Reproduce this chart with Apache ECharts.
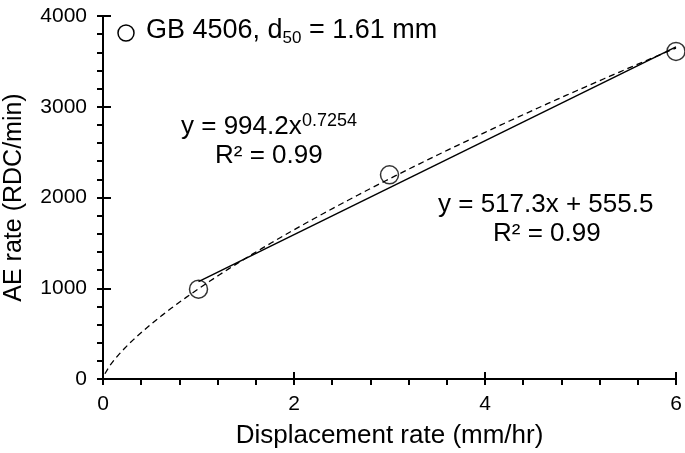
<!DOCTYPE html>
<html><head><meta charset="utf-8">
<script src="https://cdn.jsdelivr.net/npm/echarts@6/dist/echarts.min.js"></script>
<style>html,body{margin:0;padding:0;background:#fff}#c{width:685px;height:453px}</style>
</head><body><div id="c"></div>
<script>
// Data
const dispRate = [1, 3, 6];
const aeRate = [990, 2250, 3610];
const linFit = [517.3, 555.5];      // slope, intercept
const powFit = [994.2, 0.7254];     // coef, exponent
const xTicks = [0, 2, 4, 6];
const yTicks = [0, 1000, 2000, 3000, 4000];

const pts = dispRate.map((x, i) => [x, aeRate[i]]);
const linLine = [dispRate[0], dispRate[dispRate.length - 1]].map(x => [x, linFit[0] * x + linFit[1]]);
const powLine = [];
for (let i = 0; i <= 120; i++) {
  const x = 0.02 + (6 - 0.02) * i / 120;
  powLine.push([x, powFit[0] * Math.pow(x, powFit[1])]);
}

const F = 'Liberation Sans, Arial, sans-serif';
const chart = echarts.init(document.getElementById('c'));
const axisCommon = {
  axisLine: { show: true, lineStyle: { color: '#000', width: 2 } },
  splitLine: { show: false }
};
function txt(x, y, s, size) {
  return { type: 'text', x: x, y: y, style: { text: s, font: size + 'px ' + F, fill: '#000', verticalAlign: 'middle', align: 'left' } };
}
chart.setOption({
  animation: false,
  grid: { left: 103, right: 9, top: 16, bottom: 74, containLabel: false, outerBoundsMode: 'none' },
  xAxis: [
    Object.assign({}, axisCommon, {
      type: 'value', min: 0, max: 6, interval: 2, position: 'bottom',
      name: 'Displacement rate (mm/hr)', nameLocation: 'middle', nameGap: 44,
      nameTextStyle: { fontFamily: F, fontSize: 26, color: '#000' },
      axisTick: { show: true, inside: false, length: 6, lineStyle: { color: '#000', width: 2 } },
      minorTick: { show: true, splitNumber: 5, length: 6, lineStyle: { color: '#000', width: 2 } },
      axisLabel: { fontFamily: F, fontSize: 21, color: '#000', margin: 15,
        formatter: v => xTicks.includes(v) ? String(v) : '' }
    }),
    Object.assign({}, axisCommon, {
      type: 'value', min: 0, max: 6, interval: 2, position: 'bottom',
      axisLine: { show: false },
      axisTick: { show: true, inside: true, length: 7, lineStyle: { color: '#000', width: 2 } },
      axisLabel: { show: false }
    })
  ],
  yAxis: [
    Object.assign({}, axisCommon, {
      type: 'value', min: 0, max: 4000, interval: 1000, position: 'left',
      name: 'AE rate (RDC/min)', nameLocation: 'middle', nameGap: 76, nameRotate: 90,
      nameTextStyle: { fontFamily: F, fontSize: 25, color: '#000' },
      axisTick: { show: true, inside: false, length: 6, lineStyle: { color: '#000', width: 2 } },
      minorTick: { show: true, splitNumber: 5, length: 6, lineStyle: { color: '#000', width: 2 } },
      axisLabel: { fontFamily: F, fontSize: 21, color: '#000', margin: 16,
        formatter: v => yTicks.includes(v) ? String(v) : '' }
    }),
    Object.assign({}, axisCommon, {
      type: 'value', min: 0, max: 4000, interval: 1000, position: 'left',
      axisLine: { show: false },
      axisTick: { show: true, inside: true, length: 8, lineStyle: { color: '#000', width: 2 } },
      axisLabel: { show: false }
    })
  ],
  series: [
    { type: 'line', data: powLine, showSymbol: false, symbol: 'none', smooth: false,
      lineStyle: { color: '#000', width: 1.3, type: [6, 4] }, silent: true, z: 2 },
    { type: 'line', data: linLine, showSymbol: false, symbol: 'none',
      lineStyle: { color: '#000', width: 1.5, type: 'solid' }, silent: true, z: 2 },
    { name: 'GB 4506', type: 'scatter', data: pts, symbol: 'circle', symbolSize: 18,
      itemStyle: { color: 'none', borderColor: '#000', borderWidth: 1.5 }, z: 3 }
  ],
  graphic: [
    { type: 'circle', shape: { cx: 126, cy: 33, r: 8 }, style: { fill: 'none', stroke: '#000', lineWidth: 1.5 } },
    { type: 'text', left: 146, top: 17, style: {
      rich: { a: { fontFamily: F, fontSize: 27, fill: '#000' },
              s: { fontFamily: F, fontSize: 17, fill: '#000', verticalAlign: 'bottom', padding: [16, 0, 0, 0] } },
      text: '{a|GB 4506, d}{s|50}{a| = 1.61 mm}' } },
    txt(181, 127, 'y = 994.2x', 26),
    txt(302, 121, '0.7254', 18),
    txt(215, 156, 'R² = 0.99', 26),
    txt(438, 205, 'y = 517.3x + 555.5', 26),
    txt(493, 234, 'R² = 0.99', 26)
  ]
});
</script></body></html>
